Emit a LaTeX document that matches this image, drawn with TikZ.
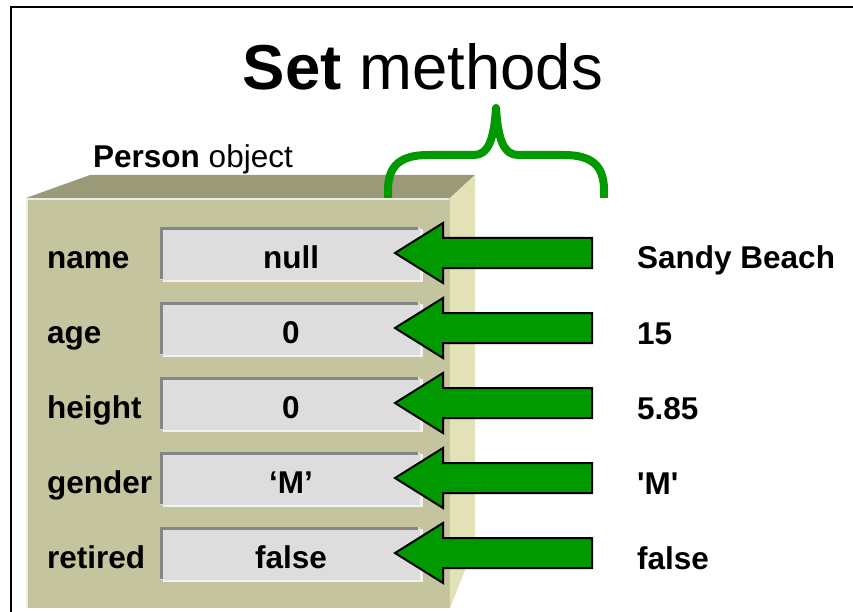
\documentclass[tikz,border=0pt]{standalone}
\usepackage{fontspec}
\setmainfont[Ligatures=TeXOff]{Liberation Sans}
\definecolor{boxfront}{HTML}{C4C49E}
\definecolor{boxtop}{HTML}{9A9A78}
\definecolor{boxside}{HTML}{E3E1B6}
\definecolor{fieldfill}{HTML}{DDDDDD}
\definecolor{fielddark}{HTML}{868686}
\definecolor{fieldlight}{HTML}{F2F2F2}
\definecolor{arrowgreen}{HTML}{009900}
\tikzset{
  lbl/.style={anchor=base west, inner sep=0pt, font=\fontsize{31.5}{34}\selectfont\bfseries},
  val/.style={anchor=base, inner sep=0pt, font=\fontsize{31.5}{34}\selectfont\bfseries},
  fieldbox/.style={fill=fieldfill, draw=none},
  bigarrow/.style={fill=arrowgreen, draw=black, line width=2pt, line join=miter},
}
\begin{document}
\begin{tikzpicture}[x=1pt,y=-1pt]
\useasboundingbox (0,0) rectangle (853,612);
\fill[white] (0,0) rectangle (853,612);
% frame
\draw[line width=2pt] (11,620) -- (11,7) -- (860,7);
% title
\node[anchor=base, inner sep=0pt, font=\fontsize{63.5}{70}\selectfont] (title) at (423,90) {\textbf{Set} methods};
% person object label
\node[anchor=base west, inner sep=0pt, font=\fontsize{31.5}{34}\selectfont] (plabel) at (93,168) {\textbf{Person} object};
% box
\fill[boxtop] (26,198) -- (90,175) -- (475,175) -- (450,198) -- cycle;
\fill[boxside] (450,198) -- (475,175) -- (475,545) -- (450,608) -- cycle;
\fill[boxfront] (26,198) rectangle (450,608);
\draw[white!70!boxfront, line width=1.5pt] (27,608) -- (27,199) -- (449,199);
% brace
\draw[arrowgreen, line width=8pt, line cap=butt, line join=round]
  (388,198) -- (388,190) .. controls (388,166) and (400,155) .. (428,155) -- (474,155)
  .. controls (488,155) and (494,140) .. (496,108)
  .. controls (498,140) and (504,155) .. (518,155) -- (564,155)
  .. controls (592,155) and (604,166) .. (604,190) -- (604,198);
% rows
\foreach \r/\lab/\fv/\vv [count=\i] in {253/name/null/Sandy Beach, 328/age/0/15, 403/height/0/5.85, 478/gender/‘M’/'M', 553/retired/false/false}{
  \fill[fieldlight] (163,\r-24) rectangle (423,\r+29);
  \fill[fieldfill] (160,\r-26) rectangle (420,\r+27);
  \draw[fielddark, line width=3pt] (161.5,\r+26) -- (161.5,\r-24.5) -- (418,\r-24.5);
  \node[val] (f\i) at (291,\r+15) {\fv};
  \node[lbl] (l\i) at (47,\r+15) {\lab};
  \node[lbl] (v\i) at (637,\r+16) {\vv};
  \draw[bigarrow] (395,\r) -- (443,\r-30) -- (443,\r-15) -- (592,\r-15) -- (592,\r+15) -- (443,\r+15) -- (443,\r+30) -- cycle;
}
\end{tikzpicture}
\end{document}
